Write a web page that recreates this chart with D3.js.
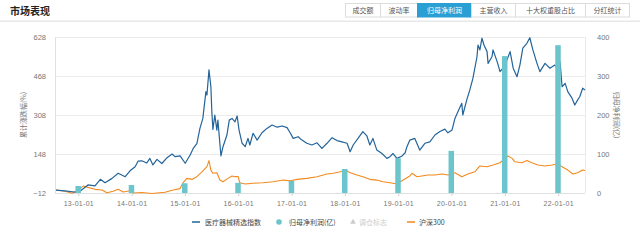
<!DOCTYPE html>
<html>
<head>
<meta charset="utf-8">
<script src="https://cdn.jsdelivr.net/npm/d3@7"></script>
<style>
html,body{margin:0;padding:0;background:#fff;}
svg{display:block;font-family:"Liberation Sans","Noto Sans CJK SC",sans-serif;}
</style>
</head>
<body>
<svg id="chart" width="640" height="241"></svg>
<script>
// ---------- DATA ----------
const tabLabels = ["成交额","波动率","归母净利润","主营收入","十大权重股占比","分红统计"];
const activeTab = "归母净利润";
const legendLabels = ["医疗器械精选指数","归母净利润(亿)","调仓标志","沪深300"];
const leftTicks = [-12,148,308,468,628];
const rightTicks = [0,100,200,300,400];
const xTickLabels = ["13-01-01","14-01-01","15-01-01","16-01-01","17-01-01","18-01-01","19-01-01","20-01-01","21-01-01","22-01-01"];

const indexDates = ["2012-08-01","2012-10-01","2013-01-01","2013-03-08","2013-04-25","2013-06-01","2013-07-03","2013-08-20","2013-10-01","2013-11-18","2013-12-21",
"2014-01-25","2014-02-15","2014-03-12","2014-04-15","2014-05-06","2014-05-27","2014-06-24","2014-07-27","2014-09-01","2014-10-05","2014-10-25","2014-11-29",
"2015-01-03","2015-02-06","2015-02-27","2015-03-24","2015-04-14","2015-05-04","2015-05-25","2015-06-01","2015-06-15","2015-06-28","2015-07-05","2015-07-12","2015-07-25","2015-08-08","2015-08-15","2015-09-05","2015-09-19","2015-10-16","2015-11-01","2015-11-20","2015-12-10","2015-12-25",
"2016-01-07","2016-01-28","2016-02-18","2016-03-08","2016-03-21","2016-04-12","2016-05-10","2016-06-12","2016-07-16","2016-08-20","2016-09-24","2016-10-28","2016-12-01","2016-12-22",
"2017-01-12","2017-02-15","2017-03-13","2017-04-15","2017-05-20","2017-06-24","2017-07-28","2017-09-01","2017-10-05","2017-11-08","2017-12-12",
"2018-01-16","2018-02-06","2018-02-27","2018-04-01","2018-05-04","2018-06-01","2018-06-21","2018-07-12","2018-08-08","2018-09-12","2018-10-16","2018-11-06","2018-11-27","2018-12-24",
"2019-01-28","2019-02-18","2019-03-01","2019-03-22","2019-04-25","2019-05-29","2019-07-03","2019-08-06","2019-09-10","2019-10-14","2019-11-17","2019-12-08",
"2020-01-05","2020-01-25","2020-02-15","2020-03-12","2020-03-19","2020-04-15","2020-05-06","2020-05-27","2020-06-24","2020-07-01","2020-07-14","2020-07-28","2020-08-11","2020-09-01","2020-09-08","2020-10-05","2020-10-12","2020-11-09","2020-11-29","2020-12-19",
"2021-01-15","2021-02-06","2021-02-27","2021-03-25","2021-04-14","2021-05-04","2021-06-01","2021-06-21","2021-07-12","2021-08-09","2021-08-29","2021-10-03","2021-11-06","2021-12-09",
"2022-01-01","2022-01-14","2022-01-28","2022-02-18","2022-03-08","2022-04-06","2022-04-25","2022-05-15","2022-05-29","2022-06-18","2022-07-04"];
const indexValues = [0,-3,-10,21,17,44,30,48,69,55,79,
96,119,120,111,130,103,126,109,133,148,137,140,
110,144,171,191,253,294,404,390,493,424,316,249,308,246,287,140,178,226,287,294,280,304,
246,192,178,212,185,233,205,235,253,267,258,263,256,235,
212,219,205,192,185,194,171,192,215,203,198,
192,157,185,212,240,222,185,212,164,150,130,137,150,130,
140,153,176,205,212,164,192,198,226,240,250,235,
246,294,322,356,308,370,411,458,547,595,575,623,595,568,520,547,575,527,486,500,
534,568,500,465,513,582,602,625,575,520,486,520,500,513,
493,527,424,438,404,377,349,370,383,418,411];

const hs300Dates = ["2012-08-01","2012-10-01","2012-11-20","2013-01-01","2013-02-05","2013-03-08","2013-04-25","2013-06-12","2013-07-16","2013-08-27","2013-10-01","2013-11-04","2013-12-21",
"2014-01-12","2014-03-12","2014-05-20","2014-08-18","2014-10-12","2014-11-29","2014-12-19",
"2015-01-15","2015-02-20","2015-03-24","2015-04-28","2015-06-01","2015-06-15","2015-06-28","2015-07-12","2015-08-08","2015-08-29","2015-09-19","2015-10-23","2015-11-20","2015-12-10",
"2016-01-01","2016-01-12","2016-02-18","2016-04-12","2016-06-19","2016-08-27","2016-11-04","2016-12-22",
"2017-02-09","2017-04-15","2017-06-24","2017-09-01","2017-10-12","2017-12-01",
"2018-01-05","2018-02-06","2018-03-25","2018-05-04","2018-06-21","2018-08-08","2018-09-19","2018-11-06","2018-12-24",
"2019-02-04","2019-03-22","2019-04-05","2019-05-10","2019-06-12","2019-07-23","2019-09-10","2019-10-28","2019-12-08",
"2020-01-25","2020-03-12","2020-04-23","2020-06-09","2020-07-14","2020-09-01","2020-10-12","2020-11-29",
"2021-01-03","2021-01-23","2021-02-20","2021-03-10","2021-04-28","2021-06-01","2021-07-05","2021-08-15","2021-10-03","2021-11-20","2021-12-24",
"2022-01-28","2022-03-08","2022-04-12","2022-05-15","2022-06-18","2022-07-04"];
const hs300Values = [0,-5,-13,0,17,11,3,0,-11,-5,3,-8,-3,
-12,-10,-14,-9,0,6,30,
48,44,55,75,96,121,82,69,71,41,34,48,58,55,
55,30,25,28,30,34,41,38,
44,48,55,66,69,75,
82,71,62,55,44,41,34,30,25,
41,58,69,55,58,62,62,66,62,
71,55,66,75,99,96,103,112,
130,140,130,116,112,121,112,103,99,103,107,
96,82,66,71,82,80];

const profitDates = ["2012-12-31","2013-12-31","2014-12-31","2015-12-31","2016-12-31","2017-12-31","2018-12-31","2019-12-31","2020-12-31","2021-12-31"];
const profitValues = [18,20.5,25,26,31,61.5,89,108,351,379];

// ---------- CHART ----------
const svg = d3.select("#chart");
const parse = d3.timeParse("%Y-%m-%d");
const C = {blue:"#23649a", orange:"#f28a1f", bar:"#6cc4cc", grid:"#ebebeb", text:"#777", axis:"#e0e0e0"};

// Header
svg.append("text").attr("x",10).attr("y",15).attr("font-size",10).attr("font-weight","bold")
  .attr("fill","#222").attr("font-family","Noto Sans CJK SC").text("市场表现");
svg.append("rect").attr("x",0).attr("y",20.5).attr("width",640).attr("height",1.5).attr("fill","#e8e8e8");

const tabWidths = [35,37,54,44,70,44];
let tx = 345;
tabLabels.forEach((t,i)=>{
  const w = tabWidths[i];
  const act = t===activeTab;
  svg.append("rect").attr("x",tx+0.5).attr("y",3.5).attr("width",w).attr("height",13.5)
    .attr("fill",act?"#2a9fd4":"#fff").attr("stroke",act?"#2a9fd4":"#dcdcdc").attr("stroke-width",1);
  svg.append("text").attr("x",tx+0.5+w/2).attr("y",13.3).attr("text-anchor","middle")
    .attr("font-size",7).attr("font-family","Noto Sans CJK SC").attr("fill",act?"#fff":"#555").text(t);
  tx += w;
});

const m = {l:55, r:585, t:37, b:193};
const x = d3.scaleTime().domain([parse(indexDates[0]), parse(indexDates[indexDates.length-1])]).range([56,585]);
const yL = d3.scaleLinear().domain([leftTicks[0], leftTicks[leftTicks.length-1]]).range([m.b,m.t]);
const yR = d3.scaleLinear().domain([rightTicks[0], rightTicks[rightTicks.length-1]]).range([m.b,m.t]);

// grid
svg.append("g").selectAll("line").data(leftTicks).join("line")
  .attr("x1",m.l).attr("x2",m.r).attr("y1",d=>Math.round(yL(d))+0.5).attr("y2",d=>Math.round(yL(d))+0.5)
  .attr("stroke",C.grid).attr("stroke-width",1);
svg.append("line").attr("x1",m.l+0.5).attr("x2",m.l+0.5).attr("y1",m.t).attr("y2",m.b).attr("stroke",C.axis);
svg.append("line").attr("x1",m.r+0.5).attr("x2",m.r+0.5).attr("y1",m.t).attr("y2",m.b).attr("stroke",C.grid);

// left axis
const gL = svg.append("g").attr("transform",`translate(${m.l},0)`)
  .call(d3.axisLeft(yL).tickValues(leftTicks).tickSize(0).tickPadding(9));
gL.select(".domain").remove();
gL.selectAll("text").attr("fill",C.text).attr("font-size",7.5).attr("font-family","Liberation Sans");

// right axis
const gR = svg.append("g").attr("transform",`translate(${m.r},0)`)
  .call(d3.axisRight(yR).tickValues(rightTicks).tickSize(0).tickPadding(12));
gR.select(".domain").remove();
gR.selectAll("text").attr("fill",C.text).attr("font-size",7.5).attr("font-family","Liberation Sans");

// bottom axis
const xTickDates = xTickLabels.map(s=>parse("20"+s));
const gB = svg.append("g").attr("transform",`translate(0,${m.b})`)
  .call(d3.axisBottom(x).tickValues(xTickDates).tickFormat((d,i)=>xTickLabels[i]).tickSize(3).tickPadding(5));
gB.select(".domain").attr("d",`M${m.l},0.5H${m.r}`).attr("stroke",C.axis);
gB.selectAll(".tick line").attr("stroke","#d0d0d0");
gB.selectAll("text").attr("fill",C.text).attr("font-size",7).attr("letter-spacing",0.3).attr("font-family","Liberation Sans");

// axis titles
svg.append("text").attr("transform","translate(26,115) rotate(-90)").attr("text-anchor","middle")
  .attr("font-size",7).attr("fill",C.text).attr("font-family","Noto Sans CJK SC").text("累计涨跌幅(%)");
svg.append("text").attr("transform","translate(614,115) rotate(90)").attr("text-anchor","middle")
  .attr("font-size",7).attr("fill",C.text).attr("font-family","Noto Sans CJK SC").text("归母净利润(亿)");

// lines
const lineGen = d3.line().x(d=>x(d[0])).y(d=>yL(d[1])).curve(d3.curveLinear);
const hsData = hs300Dates.map((d,i)=>[parse(d),hs300Values[i]]);
const idxData = indexDates.map((d,i)=>[parse(d),indexValues[i]]);
svg.append("path").datum(hsData).attr("d",lineGen).attr("fill","none").attr("stroke",C.orange).attr("stroke-width",1.1).attr("stroke-linejoin","round");
svg.append("path").datum(idxData).attr("d",lineGen).attr("fill","none").attr("stroke",C.blue).attr("stroke-width",1.2).attr("stroke-linejoin","round");

// bars
const bw = 5.5;
svg.append("g").selectAll("rect").data(profitDates).join("rect")
  .attr("x",d=>x(parse(d))-bw/2).attr("width",bw)
  .attr("y",(d,i)=>yR(profitValues[i])).attr("height",(d,i)=>yR(0)-yR(profitValues[i]))
  .attr("fill",C.bar);

// legend
const lg = svg.append("g").attr("font-family","Noto Sans CJK SC").attr("font-size",7);
const ly = 222;
lg.append("line").attr("x1",192).attr("x2",200).attr("y1",ly).attr("y2",ly).attr("stroke",C.blue).attr("stroke-width",1.5);
lg.append("text").attr("x",205).attr("y",ly+2.5).attr("fill","#444").text(legendLabels[0]);
lg.append("circle").attr("cx",279).attr("cy",ly).attr("r",2.8).attr("fill",C.bar);
lg.append("text").attr("x",289).attr("y",ly+2.5).attr("fill","#444").text(legendLabels[1]);
lg.append("path").attr("d",d3.symbol(d3.symbolTriangle,14)()).attr("transform",`translate(353,${ly})`).attr("fill","#ccc");
lg.append("text").attr("x",359).attr("y",ly+2.5).attr("fill","#ccc").text(legendLabels[2]);
lg.append("line").attr("x1",407).attr("x2",415).attr("y1",ly).attr("y2",ly).attr("stroke",C.orange).attr("stroke-width",1.5);
lg.append("text").attr("x",419).attr("y",ly+2.5).attr("fill","#444").text(legendLabels[3]);
</script>
</body>
</html>
